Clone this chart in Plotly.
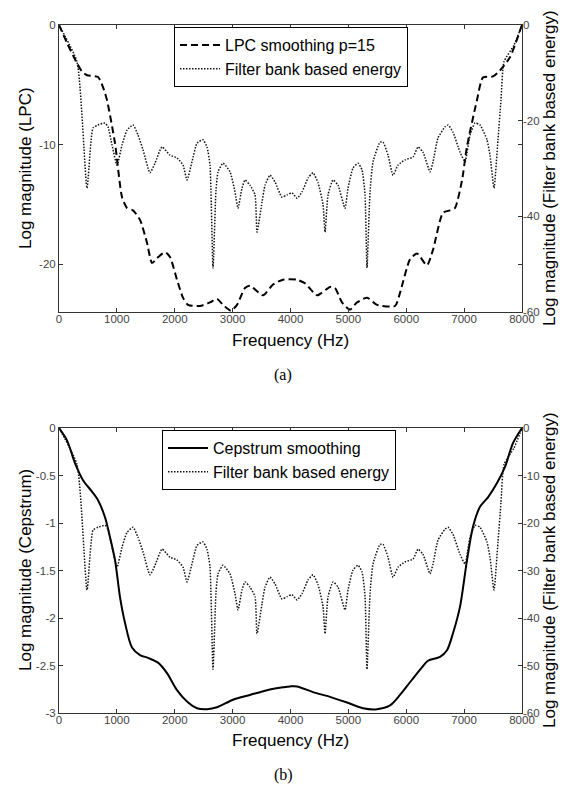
import plotly.graph_objects as go

# ---------------- data ----------------
freq_lpc = [0, 138, 311, 400, 484, 674, 760, 830, 968, 1089, 1175, 1279, 1400, 1520, 1607, 1693,
            1832, 1918, 2039, 2142, 2229, 2436, 2609, 2730, 2833, 2972, 3075, 3213, 3300, 3525,
            3698, 3870, 4112, 4251, 4458, 4683, 4769, 4890, 5028, 5149, 5322, 5495, 5806, 5892,
            6065, 6186, 6358, 6462, 6635, 6756, 6842, 6963, 7048, 7221, 7325, 7498, 7619, 7792, 8000]
lpc_vals = [0, -1.5, -3.2, -3.9, -4.2, -4.35, -5.2, -6.3, -9.9, -14.4, -15.3, -15.5, -16.3, -18.2,
            -19.9, -19.5, -19.0, -19.4, -21.3, -22.8, -23.4, -23.5, -23.2, -22.9, -23.4, -23.9,
            -23.4, -22.0, -21.8, -22.6, -21.7, -21.3, -21.3, -21.6, -22.6, -21.9, -22.0, -23.2,
            -23.8, -23.2, -22.8, -23.4, -23.5, -22.4, -19.6, -19.1, -20.1, -18.8, -15.7, -15.5,
            -15.3, -13.0, -10.2, -6.3, -4.4, -4.3, -3.8, -2.7, 0]

freq_fb = [0, 311, 484, 588, 674, 795, 847, 916, 1002, 1089, 1175, 1279, 1365, 1452, 1572, 1659,
           1780, 1918, 2039, 2143, 2212, 2298, 2385, 2488, 2557, 2609, 2661, 2713, 2748, 2834,
           2955, 3041, 3093, 3162, 3214, 3300, 3387, 3421, 3508, 3560, 3646, 3732, 3853, 3940,
           4026, 4113, 4199, 4303, 4389, 4476, 4562, 4597, 4649, 4735, 4821, 4942, 4994, 5080,
           5167, 5236, 5288, 5322, 5374, 5426, 5547, 5599, 5685, 5772, 5858, 5979, 6117, 6204,
           6290, 6411, 6463, 6549, 6670, 6722, 6808, 6929, 7015, 7102, 7188, 7274, 7395, 7447,
           7516, 7585, 7637, 7689, 7862, 8000]
fb_vals = [0, -7.7, -34.1, -21.5, -20.9, -20.5, -21.3, -25.1, -29.3, -25.1, -22.0, -20.9, -23.0,
           -26.1, -30.9, -28.9, -25.5, -27.2, -27.8, -29.3, -32.4, -28.6, -24.7, -24.0, -25.5,
           -29.3, -50.8, -34.5, -30.7, -28.9, -30.7, -34.9, -38.3, -34.1, -32.4, -33.5, -35.5,
           -43.3, -37.0, -33.5, -31.4, -32.8, -36.0, -35.5, -35.1, -36.2, -34.9, -32.0, -30.9,
           -33.0, -37.6, -43.3, -35.5, -32.4, -33.5, -38.3, -34.1, -29.9, -28.9, -30.3, -35.5,
           -50.8, -34.9, -28.6, -24.5, -24.5, -27.2, -31.4, -29.3, -28.2, -27.6, -25.5, -26.6,
           -30.7, -28.6, -23.6, -21.3, -20.9, -22.4, -26.6, -28.6, -23.0, -20.5, -20.9, -24.0,
           -27.2, -34.1, -24.0, -15.7, -7.7, -4.2, 0]

freq_cep = [0, 138, 276, 415, 570, 674, 795, 881, 968, 1054, 1140, 1261, 1400, 1538, 1711, 1866,
            2039, 2212, 2384, 2557, 2730, 3007, 3300, 3594, 3871, 3992, 4112, 4389, 4683, 4977,
            5253, 5495, 5719, 5892, 6099, 6272, 6376, 6583, 6704, 6808, 6929, 7050, 7153, 7274,
            7412, 7568, 7706, 7844, 8000]
cep_vals = [0, -0.13, -0.37, -0.55, -0.67, -0.76, -0.94, -1.15, -1.39, -1.78, -2.05, -2.31, -2.39,
            -2.42, -2.47, -2.58, -2.76, -2.88, -2.95, -2.96, -2.94, -2.86, -2.81, -2.76, -2.73,
            -2.72, -2.72, -2.78, -2.83, -2.89, -2.95, -2.96, -2.92, -2.81, -2.65, -2.52, -2.45,
            -2.41, -2.34, -2.16, -1.88, -1.39, -1.04, -0.83, -0.73, -0.58, -0.41, -0.16, 0]

x_ticks = [0, 1000, 2000, 3000, 4000, 5000, 6000, 7000, 8000]
x_labels = ["0", "1000", "2000", "3000", "4000", "5000", "6000", "7000", "8000"]
lpc_ticks = [0, -10, -20]
lpc_labels = ["0", "-10", "-20"]
fb_ticks_a = [0, -20, -40, -60]
fb_labels_a = ["0", "-20", "-40", "-60"]
cep_ticks = [0, -0.5, -1, -1.5, -2, -2.5, -3]
cep_labels = ["0", "-0.5", "-1", "-1.5", "-2", "-2.5", "-3"]
fb_ticks_b = [0, -10, -20, -30, -40, -50, -60]
fb_labels_b = ["0", "-10", "-20", "-30", "-40", "-50", "-60"]

# ---------------- figure ----------------
# the page body has an 8px default margin: lay the figure out in page pixels minus that offset
OFF = 8
W, H = 567 - OFF, 787 - OFF
L, T = 59 - OFF, 25 - OFF
R = W - (522 - OFF)
B = H - (713 - OFF)
PH = H - T - B
PW = W - L - R


def py(y):
    return (H - B - (y - OFF)) / PH


def px(x):
    return ((x - OFF) - L) / PW


DOT = "1.5px,1.5px"
fig = go.Figure()
fig.add_trace(go.Scatter(x=freq_lpc, y=lpc_vals, mode="lines", name="LPC smoothing p=15",
                         line=dict(color="black", width=2, dash="7px,4px", shape="spline", smoothing=0.6),
                         xaxis="x", yaxis="y", legend="legend"))
fig.add_trace(go.Scatter(x=freq_fb, y=fb_vals, mode="lines", name="Filter bank based energy",
                         line=dict(color="#111", width=1.5, dash=DOT, shape="spline", smoothing=0.5),
                         xaxis="x", yaxis="y2", legend="legend"))
fig.add_trace(go.Scatter(x=freq_cep, y=cep_vals, mode="lines", name="Cepstrum smoothing",
                         line=dict(color="black", width=2, shape="spline", smoothing=0.8),
                         xaxis="x2", yaxis="y3", legend="legend2"))
fig.add_trace(go.Scatter(x=freq_fb, y=fb_vals, mode="lines", name="Filter bank based energy",
                         line=dict(color="#111", width=1.5, dash=DOT, shape="spline", smoothing=0.5),
                         xaxis="x2", yaxis="y4", legend="legend2"))

tickfont = dict(family="Liberation Sans, Arial", size=11.5, color="#444")
titlefont = dict(family="Liberation Sans, Arial", size=17, color="black")
common = dict(showgrid=False, zeroline=False, ticks="inside", ticklen=4, tickcolor="#333",
              linecolor="#333", linewidth=1, tickfont=tickfont, automargin=False)

top_lo, top_hi = py(312), py(25)
bot_lo, bot_hi = py(713), py(428)

legfont = dict(family="Liberation Sans, Arial", size=16, color="black")


def ann(text, x, y, font, angle=0):
    return dict(text=text, x=px(x), y=py(y), xref="paper", yref="paper", showarrow=False,
                textangle=angle, xanchor="center", yanchor="middle", font=font)


serif = dict(family="Liberation Serif, Times New Roman", size=16, color="black")

fig.update_layout(
    width=W, height=H, margin=dict(l=L, r=R, t=T, b=B, autoexpand=False),
    paper_bgcolor="white", plot_bgcolor="white", showlegend=True,
    xaxis=dict(domain=[0, 1], anchor="y", range=[0, 8000], tickvals=x_ticks, ticktext=x_labels,
               showline=True, mirror="ticks", ticklabelstandoff=-4, **common),
    yaxis=dict(domain=[top_lo, top_hi], anchor="x", range=[-24, 0], tickvals=lpc_ticks, ticktext=lpc_labels,
               showline=True, mirror="ticks", **common),
    yaxis2=dict(overlaying="y", side="right", anchor="x", range=[-60, 0], tickvals=fb_ticks_a,
                ticktext=fb_labels_a, showline=False, **common),
    xaxis2=dict(domain=[0, 1], anchor="y3", range=[0, 8000], tickvals=x_ticks, ticktext=x_labels,
                showline=True, mirror="ticks", ticklabelstandoff=-4, **common),
    yaxis3=dict(domain=[bot_lo, bot_hi], anchor="x2", range=[-3, 0], tickvals=cep_ticks, ticktext=cep_labels,
                showline=True, mirror="ticks", **common),
    yaxis4=dict(overlaying="y3", side="right", anchor="x2", range=[-60, 0], tickvals=fb_ticks_b,
                ticktext=fb_labels_b, showline=False, **common),
    legend=dict(x=px(174), y=py(27), xanchor="left", yanchor="top", bgcolor="white",
                bordercolor="black", borderwidth=1, font=legfont, tracegroupgap=0, itemwidth=40),
    legend2=dict(x=px(162), y=py(430), xanchor="left", yanchor="top", bgcolor="white",
                 bordercolor="black", borderwidth=1, font=legfont, tracegroupgap=0, itemwidth=40),
    annotations=[
        ann("Frequency (Hz)", 290, 340, titlefont),
        ann("Log magnitude (LPC)", 25, 168, titlefont, -90),
        ann("Log magnitude (Filter bank based energy)", 549, 168, titlefont, -90),
        ann("(a)", 283, 375, serif),
        ann("Frequency (Hz)", 290, 740, titlefont),
        ann("Log magnitude (Cepstrum)", 25, 570, titlefont, -90),
        ann("Log magnitude (Filter bank based energy)", 549, 570, titlefont, -90),
        ann("(b)", 283, 775, serif),
    ],
)

fig.write_html("out.html")
